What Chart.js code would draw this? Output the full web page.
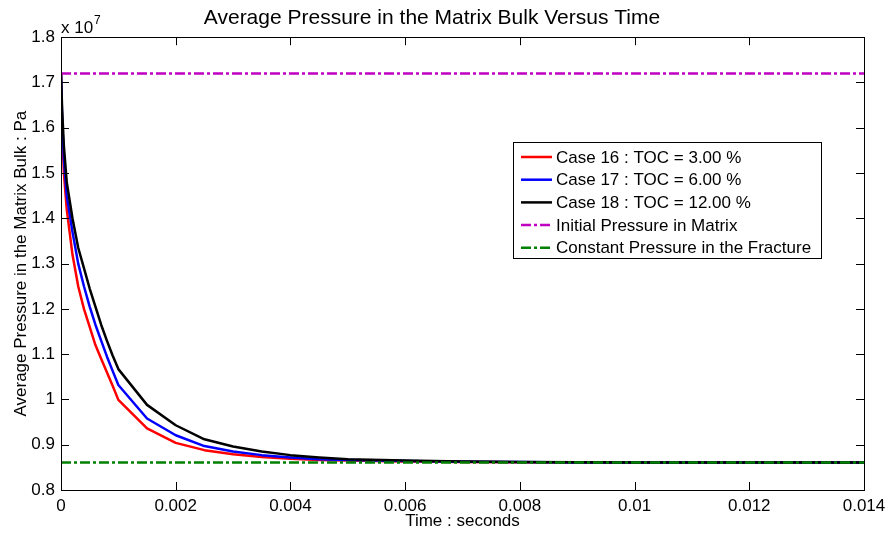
<!DOCTYPE html>
<html>
<head>
<meta charset="utf-8">
<script src="https://cdn.jsdelivr.net/npm/chart.js@4"></script>
<style>
  html, body { margin: 0; padding: 0; background: #fff; }
  #wrap { width: 886px; height: 534px; }
</style>
</head>
<body>
<div id="wrap"><canvas id="pressureChart" width="886" height="534"></canvas></div>
<script>
// values in units of 1e7 Pa
const timeSec = [0, 0.00002, 0.00005, 0.0001, 0.00015, 0.0002, 0.0003, 0.0004, 0.0005, 0.0006,
  0.0007, 0.0008, 0.0009, 0.001, 0.0015, 0.002, 0.0025, 0.003, 0.0035, 0.004,
  0.0045, 0.005, 0.006, 0.007, 0.008, 0.009, 0.01, 0.011, 0.012, 0.013, 0.014];

const case16 = [1.72, 1.60, 1.50, 1.42, 1.37, 1.32, 1.25, 1.20, 1.16, 1.12,
  1.09, 1.06, 1.03, 0.999, 0.936, 0.904, 0.888, 0.879, 0.873, 0.869,
  0.866, 0.865, 0.863, 0.862, 0.8615, 0.861, 0.861, 0.861, 0.861, 0.861, 0.861];

const case17 = [1.72, 1.62, 1.53, 1.45, 1.41, 1.37, 1.30, 1.25, 1.205, 1.165,
  1.13, 1.095, 1.063, 1.032, 0.958, 0.921, 0.897, 0.885, 0.877, 0.872,
  0.868, 0.866, 0.864, 0.8625, 0.862, 0.861, 0.861, 0.861, 0.861, 0.861, 0.861];

const case18 = [1.72, 1.64, 1.56, 1.48, 1.44, 1.40, 1.335, 1.29, 1.245, 1.205,
  1.165, 1.13, 1.097, 1.067, 0.988, 0.943, 0.912, 0.896, 0.885, 0.877,
  0.872, 0.868, 0.865, 0.863, 0.862, 0.8615, 0.861, 0.861, 0.861, 0.861, 0.861];

const initialPressure = 1.72;
const fracturePressure = 0.861;
const xTicks = [0, 0.002, 0.004, 0.006, 0.008, 0.01, 0.012, 0.014];
const yTicks = [0.8, 0.9, 1, 1.1, 1.2, 1.3, 1.4, 1.5, 1.6, 1.7, 1.8];

const FONT = "'Liberation Sans', Arial, sans-serif";
const dashDot = [10, 3, 3, 3];

function pts(values) {
  return timeSec.map((t, i) => ({ x: t, y: values[i] }));
}
function flat(v) {
  return [{ x: xTicks[0], y: v }, { x: xTicks[xTicks.length - 1], y: v }];
}

// frame, inward ticks, exponent label, legend
const matlabLook = {
  id: "matlabLook",
  afterDatasetsDraw(chart) {
    const { ctx, chartArea: a } = chart;
    const xs = chart.scales.x, ys = chart.scales.y;
    const len = 8;
    ctx.save();
    ctx.strokeStyle = "#000";
    ctx.lineWidth = 1;
    ctx.beginPath();
    xTicks.forEach(v => {
      const px = Math.round(xs.getPixelForValue(v)) + 0.5;
      ctx.moveTo(px, a.bottom); ctx.lineTo(px, a.bottom - len);
      ctx.moveTo(px, a.top); ctx.lineTo(px, a.top + len);
    });
    yTicks.forEach(v => {
      const py = Math.round(ys.getPixelForValue(v)) + 0.5;
      ctx.moveTo(a.left, py); ctx.lineTo(a.left + len, py);
      ctx.moveTo(a.right, py); ctx.lineTo(a.right - len, py);
    });
    ctx.stroke();
    ctx.strokeRect(Math.round(a.left) + 0.5, Math.round(a.top) + 0.5,
      Math.round(a.right - a.left), Math.round(a.bottom - a.top));

    // x 10^7
    ctx.fillStyle = "#000";
    ctx.textBaseline = "alphabetic";
    ctx.textAlign = "left";
    ctx.font = "17px " + FONT;
    ctx.fillText("x 10", a.left, 33);
    ctx.font = "12px " + FONT;
    ctx.fillText("7", a.left + 33, 24);

    // legend
    const bx = 513, by = 142, bw = 308, bh = 116;
    ctx.fillStyle = "#fff";
    ctx.fillRect(bx, by, bw, bh);
    ctx.strokeRect(bx + 0.5, by + 0.5, bw, bh);
    ctx.font = "17px " + FONT;
    ctx.textBaseline = "middle";
    chart.data.datasets.forEach((ds, i) => {
      const y = by + 15 + i * 22.7;
      ctx.strokeStyle = ds.borderColor;
      ctx.lineWidth = ds.borderWidth;
      ctx.setLineDash(ds.borderDash || []);
      ctx.beginPath();
      ctx.moveTo(bx + 8, y); ctx.lineTo(bx + 39, y);
      ctx.stroke();
      ctx.setLineDash([]);
      ctx.fillStyle = "#000";
      ctx.fillText(ds.label, bx + 43, y + 1);
    });
    ctx.restore();
  }
};

const ctx = document.getElementById("pressureChart").getContext("2d");
new Chart(ctx, {
  type: "line",
  data: {
    datasets: [
      { label: "Case 16 : TOC = 3.00 %", data: pts(case16), borderColor: "#ff0000", borderWidth: 2.5, order: 3 },
      { label: "Case 17 : TOC = 6.00 %", data: pts(case17), borderColor: "#0000ff", borderWidth: 2.5, order: 2 },
      { label: "Case 18 : TOC = 12.00 %", data: pts(case18), borderColor: "#000000", borderWidth: 2.5, order: 1 },
      { label: "Initial Pressure in Matrix", data: flat(initialPressure), borderColor: "#c000c0", borderWidth: 2.5, borderDash: dashDot, order: 0 },
      { label: "Constant Pressure in the Fracture", data: flat(fracturePressure), borderColor: "#008000", borderWidth: 2.5, borderDash: dashDot, order: 0 }
    ]
  },
  options: {
    responsive: false,
    animation: false,
    layout: { padding: { top: 0, right: 22, bottom: 0, left: 0 } },
    elements: { point: { radius: 0 }, line: { tension: 0, borderJoinStyle: "round" } },
    plugins: {
      legend: { display: false },
      tooltip: { enabled: false },
      title: {
        display: true,
        text: "Average Pressure in the Matrix Bulk Versus Time",
        color: "#000",
        font: { family: FONT, size: 21, weight: "normal" },
        padding: { top: 6, bottom: 6 }
      }
    },
    scales: {
      x: {
        type: "linear",
        min: 0, max: 0.014,
        afterBuildTicks: s => { s.ticks = xTicks.map(v => ({ value: v })); },
        afterFit: s => { s.height = 44; s.paddingLeft = 0; s.paddingRight = 0; },
        grid: { display: false, drawTicks: false },
        border: { display: false },
        ticks: { color: "#000", font: { family: FONT, size: 17 }, padding: 6, maxRotation: 0,
          callback: v => String(v) },
        title: { display: true, text: "Time : seconds", color: "#000",
          font: { family: FONT, size: 17 }, padding: { top: 0, bottom: 2 } }
      },
      y: {
        type: "linear",
        min: 0.8, max: 1.8,
        afterBuildTicks: s => { s.ticks = yTicks.map(v => ({ value: v })); },
        afterFit: s => { s.width = 61; s.paddingTop = 0; s.paddingBottom = 0; },
        grid: { display: false, drawTicks: false },
        border: { display: false },
        ticks: { color: "#000", font: { family: FONT, size: 17 }, padding: 6,
          callback: v => String(Math.round(v * 10) / 10) },
        title: { display: true, text: "Average Pressure in the Matrix Bulk : Pa", color: "#000",
          font: { family: FONT, size: 17 }, padding: { top: 11, bottom: 0 } }
      }
    }
  },
  plugins: [matlabLook]
});
</script>
</body>
</html>
